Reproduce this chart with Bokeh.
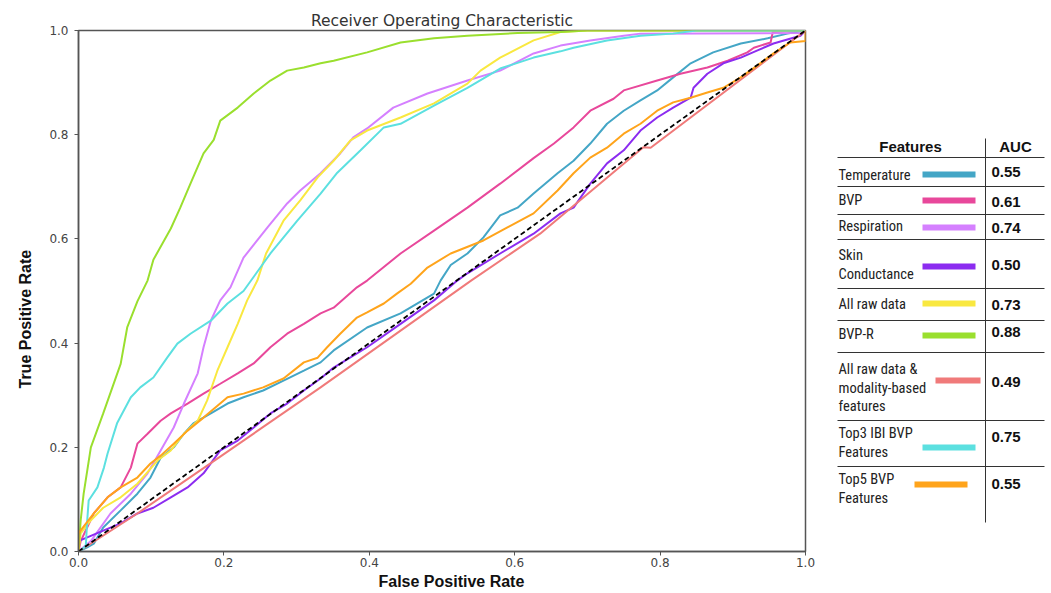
from bokeh.plotting import figure
from bokeh.layouts import row
from bokeh.models import Range1d, FixedTicker, PrintfTickFormatter, Title
from bokeh.core.properties import value
from bokeh.embed import file_html
from bokeh.resources import INLINE

# ---------------- data ----------------
features = ["Temperature", "BVP", "Respiration", "Skin\nConductance", "All raw data", "BVP-R",
            "All raw data &\nmodality-based\nfeatures", "Top3 IBI BVP\nFeatures", "Top5 BVP\nFeatures"]
auc = [0.55, 0.61, 0.74, 0.50, 0.73, 0.88, 0.49, 0.75, 0.55]
colors = ["#44a6c6", "#e8489b", "#d580ff", "#8c2cf0", "#f9e840", "#9adf2e", "#f07a7a", "#5ce0e0", "#ffa41b"]

temp_x = [0, 0.012, 0.021, 0.034, 0.058, 0.081, 0.099, 0.113, 0.131, 0.145, 0.158, 0.182, 0.205, 0.227, 0.254, 0.282, 0.31, 0.333, 0.351, 0.397, 0.443, 0.489, 0.498, 0.512, 0.535, 0.557, 0.58, 0.604, 0.626, 0.659, 0.681, 0.704, 0.727, 0.75, 0.773, 0.796, 0.818, 0.842, 0.873, 0.911, 0.948, 0.975, 1.0]
temp_y = [0, 0.008, 0.015, 0.046, 0.079, 0.111, 0.142, 0.18, 0.2, 0.226, 0.246, 0.265, 0.284, 0.296, 0.309, 0.328, 0.347, 0.363, 0.386, 0.43, 0.457, 0.495, 0.52, 0.55, 0.572, 0.603, 0.645, 0.66, 0.687, 0.726, 0.75, 0.783, 0.821, 0.846, 0.866, 0.885, 0.91, 0.937, 0.958, 0.975, 0.985, 0.994, 1.0]

bvp_x = [0, 0.003, 0.021, 0.04, 0.058, 0.072, 0.081, 0.095, 0.113, 0.127, 0.15, 0.172, 0.195, 0.219, 0.241, 0.264, 0.287, 0.31, 0.333, 0.351, 0.383, 0.397, 0.443, 0.489, 0.535, 0.58, 0.626, 0.654, 0.681, 0.704, 0.736, 0.75, 0.796, 0.828, 0.865, 0.893, 0.92, 0.929, 0.952, 0.955, 1.0]
bvp_y = [0, 0.02, 0.073, 0.104, 0.123, 0.161, 0.207, 0.226, 0.251, 0.265, 0.284, 0.303, 0.322, 0.342, 0.361, 0.392, 0.418, 0.437, 0.457, 0.468, 0.507, 0.52, 0.572, 0.616, 0.66, 0.706, 0.755, 0.783, 0.814, 0.846, 0.869, 0.885, 0.904, 0.917, 0.929, 0.942, 0.958, 0.967, 0.977, 0.997, 1.0]

resp_x = [0, 0.017, 0.044, 0.072, 0.095, 0.113, 0.131, 0.145, 0.164, 0.172, 0.182, 0.195, 0.209, 0.227, 0.26, 0.287, 0.305, 0.333, 0.36, 0.378, 0.397, 0.433, 0.48, 0.535, 0.58, 0.626, 0.663, 0.704, 0.75, 0.773, 0.995, 1.0]
resp_y = [0, 0.02, 0.073, 0.111, 0.15, 0.194, 0.238, 0.284, 0.342, 0.392, 0.443, 0.482, 0.507, 0.564, 0.622, 0.668, 0.693, 0.726, 0.764, 0.795, 0.812, 0.852, 0.879, 0.904, 0.923, 0.956, 0.971, 0.981, 0.99, 0.994, 0.995, 1.0]

skin_x = [0, 0.0, 0.012, 0.034, 0.058, 0.081, 0.103, 0.127, 0.15, 0.172, 0.195, 0.219, 0.241, 0.264, 0.287, 0.31, 0.333, 0.351, 0.397, 0.443, 0.489, 0.521, 0.535, 0.58, 0.626, 0.663, 0.681, 0.704, 0.727, 0.75, 0.773, 0.796, 0.818, 0.842, 0.846, 0.865, 0.887, 0.911, 0.934, 0.956, 0.993, 1.0]
skin_y = [0, 0.02, 0.027, 0.04, 0.054, 0.073, 0.084, 0.104, 0.123, 0.15, 0.194, 0.213, 0.238, 0.265, 0.284, 0.309, 0.332, 0.353, 0.392, 0.437, 0.482, 0.52, 0.534, 0.572, 0.61, 0.649, 0.66, 0.706, 0.745, 0.77, 0.808, 0.833, 0.852, 0.871, 0.89, 0.917, 0.937, 0.948, 0.962, 0.975, 0.99, 1.0]

raw_x = [0, 0.003, 0.017, 0.034, 0.058, 0.081, 0.109, 0.127, 0.145, 0.164, 0.177, 0.191, 0.205, 0.219, 0.232, 0.246, 0.258, 0.282, 0.305, 0.329, 0.351, 0.374, 0.397, 0.443, 0.489, 0.535, 0.553, 0.58, 0.626, 0.663, 0.70, 1.0]
raw_y = [0, 0.035, 0.06, 0.084, 0.104, 0.13, 0.175, 0.194, 0.226, 0.251, 0.29, 0.347, 0.392, 0.437, 0.482, 0.52, 0.572, 0.635, 0.674, 0.718, 0.75, 0.789, 0.808, 0.833, 0.86, 0.898, 0.923, 0.948, 0.981, 0.997, 1.0, 1.0]

bvpr_x = [0, 0.003, 0.007, 0.017, 0.034, 0.058, 0.067, 0.081, 0.095, 0.103, 0.127, 0.14, 0.154, 0.172, 0.186, 0.195, 0.219, 0.241, 0.264, 0.287, 0.31, 0.333, 0.351, 0.397, 0.443, 0.489, 0.535, 0.604, 0.663, 0.70, 1.0]
bvpr_y = [0, 0.06, 0.11, 0.2, 0.265, 0.36, 0.43, 0.48, 0.52, 0.56, 0.62, 0.66, 0.706, 0.764, 0.79, 0.827, 0.852, 0.879, 0.904, 0.923, 0.929, 0.937, 0.942, 0.958, 0.977, 0.985, 0.99, 0.995, 0.997, 1.0, 1.0]

allmod_x = [0, 0.081, 0.172, 0.333, 0.54, 0.635, 0.777, 0.787, 1.0]
allmod_y = [0, 0.073, 0.16, 0.315, 0.52, 0.61, 0.776, 0.775, 1.0]

top3_x = [0, 0.01, 0.012, 0.014, 0.026, 0.035, 0.04, 0.053, 0.072, 0.085, 0.103, 0.122, 0.136, 0.154, 0.182, 0.205, 0.227, 0.264, 0.301, 0.333, 0.356, 0.388, 0.42, 0.443, 0.489, 0.535, 0.58, 0.626, 0.663, 0.681, 0.727, 0.773, 0.818, 0.85, 1.0]
top3_y = [0, 0.01, 0.06, 0.098, 0.123, 0.161, 0.188, 0.246, 0.296, 0.315, 0.334, 0.372, 0.399, 0.418, 0.443, 0.476, 0.50, 0.572, 0.635, 0.687, 0.727, 0.77, 0.814, 0.821, 0.856, 0.89, 0.927, 0.948, 0.96, 0.967, 0.981, 0.99, 0.994, 1.0, 1.0]

top5_x = [0, 0, 0.021, 0.04, 0.058, 0.081, 0.099, 0.113, 0.131, 0.15, 0.172, 0.205, 0.227, 0.254, 0.282, 0.31, 0.329, 0.342, 0.36, 0.383, 0.397, 0.42, 0.438, 0.457, 0.48, 0.512, 0.557, 0.59, 0.626, 0.659, 0.681, 0.704, 0.727, 0.75, 0.773, 0.796, 0.818, 0.842, 0.865, 0.887, 0.911, 0.934, 0.956, 0.979, 1.0, 1.0]
top5_y = [0, 0.035, 0.073, 0.104, 0.123, 0.142, 0.169, 0.184, 0.207, 0.232, 0.257, 0.296, 0.303, 0.315, 0.332, 0.363, 0.372, 0.392, 0.418, 0.449, 0.459, 0.476, 0.495, 0.514, 0.545, 0.572, 0.597, 0.622, 0.649, 0.693, 0.726, 0.756, 0.775, 0.802, 0.821, 0.846, 0.862, 0.871, 0.881, 0.89, 0.91, 0.933, 0.956, 0.977, 0.98, 1.0]

chance = [0, 1]
ticks = [0.0, 0.2, 0.4, 0.6, 0.8, 1.0]

series = [(temp_x, temp_y), (bvp_x, bvp_y), (resp_x, resp_y), (skin_x, skin_y), (raw_x, raw_y),
          (bvpr_x, bvpr_y), (allmod_x, allmod_y), (top3_x, top3_y), (top5_x, top5_y)]

# ---------------- main ROC plot ----------------
p = figure(width=830, height=593, x_range=Range1d(0, 1), y_range=Range1d(0, 1),
           output_backend="svg", toolbar_location=None,
           min_border_left=78, min_border_right=25, min_border_top=30, min_border_bottom=42,
           title="Receiver Operating Characteristic")
p.title.align = "center"
p.title.text_font = "DejaVu Sans"
p.title.text_font_size = "15.5px"
p.title.text_font_style = "normal"
p.title.text_color = "#333333"
p.title.standoff = 2
p.xgrid.visible = False
p.ygrid.visible = False
p.outline_line_color = "#555555"
p.outline_line_width = 1.5

for ax in (p.xaxis[0], p.yaxis[0]):
    ax.ticker = FixedTicker(ticks=ticks)
    ax.formatter = PrintfTickFormatter(format="%.1f")
    ax.minor_tick_line_color = None
    ax.major_tick_out = 4
    ax.major_tick_in = 0
    ax.axis_line_color = "#555555"
    ax.axis_line_width = 1.5
    ax.major_tick_line_color = "#555555"
    ax.major_label_text_font = "DejaVu Sans"
    ax.major_label_text_font_size = "12px"
    ax.major_label_text_color = "#444444"
p.xaxis.major_label_standoff = 2
p.yaxis.major_label_standoff = 6

# axis titles, placed slightly off-centre as in the reference
p.add_layout(Title(text="False Positive Rate", align="left", offset=300, standoff=2,
                   text_font="Liberation Sans", text_font_size="16px", text_font_style="bold",
                   text_color="#111111"), "below")
p.add_layout(Title(text="True Positive Rate", align="left", offset=163, standoff=25,
                   text_font="Liberation Sans", text_font_size="16px", text_font_style="bold",
                   text_color="#111111"), "left")

for (xs, ys), c in zip(series, colors):
    p.line(xs, ys, line_color=c, line_width=2)
p.line(chance, chance, line_color="black", line_width=1.8, line_dash="5 3")

# ---------------- legend table (frame is aligned with main frame: y 30..551 px) ----------------
t = figure(width=221, height=593, x_range=Range1d(830, 1051), y_range=Range1d(551, 30),
           output_backend="svg", toolbar_location=None, x_axis_type=None, y_axis_type=None,
           min_border=0, min_border_left=0, min_border_right=0, min_border_top=30, min_border_bottom=42)
t.outline_line_color = None
t.xgrid.visible = False
t.ygrid.visible = False

row_text_y = [175, 200, 226, 255, 304, 334, 369, 433, 479]
line_gap = 18.5
tx, ty, tt = [], [], []
for name, y0 in zip(features, row_text_y):
    for k, part in enumerate(name.split("\n")):
        tx.append(838)
        ty.append(y0 + k * line_gap)
        tt.append(part)
t.text(x=tx, y=ty, text=tt,
       text_font=value("Roboto Condensed, DejaVu Sans Condensed, Roboto, sans-serif"),
       text_font_size="14.5px",
       text_baseline="middle", text_align="left", text_color="#222222")

sw_x0 = [922, 922, 922, 922, 922, 922, 935, 922, 914]
sw_x1 = [975, 975, 975, 975, 975, 975, 980, 975, 967]
sw_y = [174, 200, 227, 266, 303, 335, 380, 447, 484]
t.segment(x0=sw_x0, y0=sw_y, x1=sw_x1, y1=sw_y, line_color=colors, line_width=6)

auc_y = [171, 201, 227, 264, 304, 331, 381, 436, 483]
t.text(x=[991] * len(auc), y=auc_y, text=["%.2f" % a for a in auc],
       text_font=value("Liberation Sans"), text_font_size="15px", text_font_style="bold",
       text_baseline="middle", text_align="left", text_color="#111111")

t.text(x=[910, 1015], y=[146, 146], text=["Features", "AUC"],
       text_font=value("Liberation Sans"), text_font_size="15px", text_font_style="bold",
       text_baseline="middle", text_align="center", text_color="#111111")

sep_y = [157, 186, 214, 239, 288, 320, 352, 420, 466]
t.segment(x0=[837] * len(sep_y), y0=sep_y, x1=[1044] * len(sep_y), y1=sep_y,
          line_color="#333333", line_width=1)
t.segment(x0=[985], y0=[138], x1=[985], y1=[522], line_color="#333333", line_width=1)

layout = row(p, t)
open("out.html", "w").write(file_html(layout, INLINE))
